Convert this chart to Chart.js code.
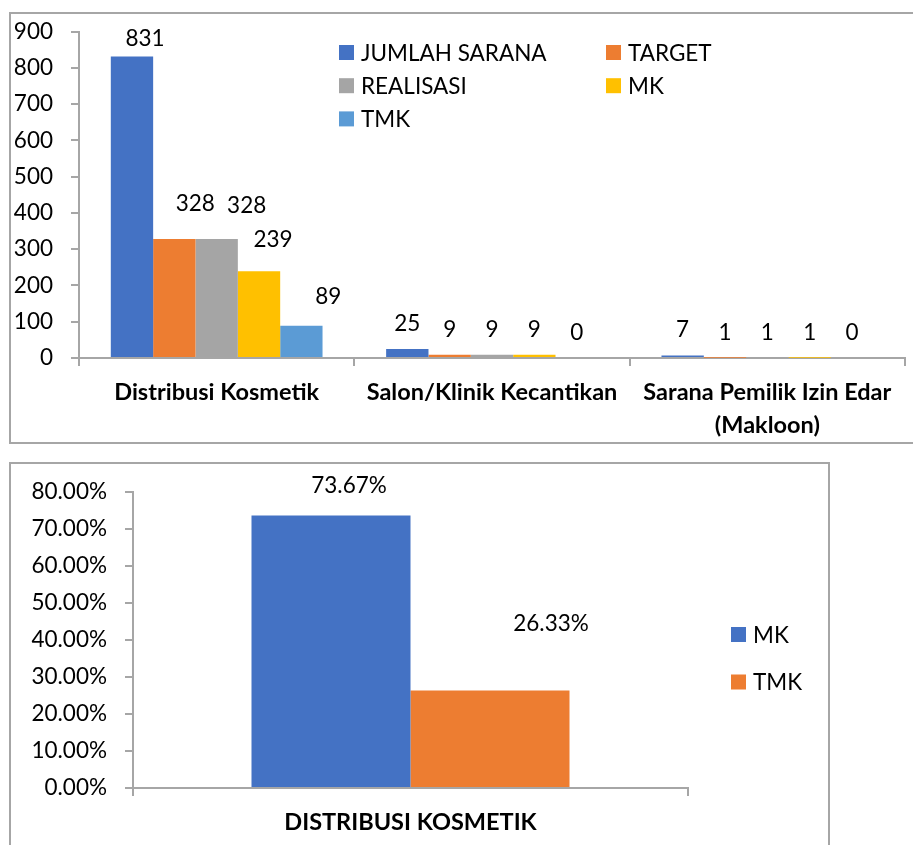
<!DOCTYPE html>
<html>
<head>
<meta charset="utf-8">
<script src="https://cdn.jsdelivr.net/npm/chart.js@4.4.1/dist/chart.umd.min.js"></script>
<style>
  body { margin: 0; background: #fff; width: 913px; height: 845px; overflow: hidden; position: relative; }
  .box { position: absolute; border: 2px solid #a6a6a6; box-sizing: border-box; }
  canvas { position: absolute; left: 0; }
</style>
</head>
<body>
<div class="box" style="left:9px;top:12px;width:930px;height:432px"></div>
<div class="box" style="left:9px;top:462px;width:821px;height:420px"></div>
<canvas id="top-chart" width="913" height="445" style="top:0"></canvas>
<canvas id="bottom-chart" width="913" height="400" style="top:445px"></canvas>
<script>
// top chart: jumlah sarana per kategori
const categories = [['Distribusi Kosmetik'], ['Salon/Klinik Kecantikan'], ['Sarana Pemilik Izin Edar', '(Makloon)']]
const seriesNames = ['JUMLAH SARANA', 'TARGET', 'REALISASI', 'MK', 'TMK']
const jumlahSarana = [831, 25, 7]
const target = [328, 9, 1]
const realisasi = [328, 9, 1]
const mk = [239, 9, 1]
const tmk = [89, 0, 0]
const countMax = 900
const countStep = 100

// bottom chart: persentase MK / TMK
const pctCategories = ['DISTRIBUSI KOSMETIK']
const pctNames = ['MK', 'TMK']
const pctMK = [73.67]
const pctTMK = [26.33]
const pctMax = 80
const pctStep = 10

const colors = ['#4472C4', '#ED7D31', '#A5A5A5', '#FFC000', '#5B9BD5']
const axisGray = '#a6a6a6'
const textColor = '#000'
const FONT = 'Lato'
const SIZE = 22.5
const BOLD_SIZE = 23.5

// draws the value above each bar (cap-centred), with optional per-bar shifts
const valueLabels = cfg => ({
  id: 'valueLabels',
  afterDatasetsDraw(chart) {
    const ctx = chart.ctx
    ctx.save()
    ctx.font = cfg.font
    ctx.fillStyle = textColor
    ctx.textAlign = 'center'
    ctx.textBaseline = 'alphabetic'
    chart.data.datasets.forEach((ds, i) => {
      chart.getDatasetMeta(i).data.forEach((bar, j) => {
        const s = cfg.shift[i + '-' + j] || [0, 0]
        const txt = ds.data[j].toFixed(cfg.decimals) + cfg.suffix
        ctx.fillText(txt, bar.x + s[0], bar.y - cfg.gap + s[1])
      })
    })
    ctx.restore()
  }
})

// excel-like legend laid out in fixed columns
const boxLegend = cfg => ({
  id: 'boxLegend',
  afterDraw(chart) {
    const ctx = chart.ctx
    ctx.save()
    ctx.font = cfg.font
    ctx.textAlign = 'left'
    ctx.textBaseline = 'alphabetic'
    chart.data.datasets.forEach((ds, i) => {
      const col = i % cfg.x.length
      const row = Math.floor(i / cfg.x.length)
      const x = cfg.x[col]
      const y = cfg.y + row * cfg.rowGap
      ctx.fillStyle = ds.backgroundColor
      ctx.fillRect(x, y - cfg.box / 2, cfg.box, cfg.box)
      ctx.fillStyle = textColor
      ctx.fillText(ds.label, x + cfg.textGap, y + 8)
    })
    ctx.restore()
  }
})

const axisStyle = {
  border: { display: true, color: axisGray, width: 2 },
  grid: { drawOnChartArea: false, drawTicks: true, tickLength: 8, color: axisGray, lineWidth: 2, tickColor: axisGray, tickWidth: 2 }
}

const drawCharts = () => {
  const countSeries = [jumlahSarana, target, realisasi, mk, tmk]

  new Chart(document.getElementById('top-chart'), {
    type: 'bar',
    data: {
      labels: categories,
      datasets: countSeries.map((d, i) => ({
        label: seriesNames[i],
        data: d,
        backgroundColor: colors[i],
        borderWidth: 0,
        categoryPercentage: 0.769,
        barPercentage: 1
      }))
    },
    options: {
      responsive: false,
      animation: false,
      layout: { padding: { top: 28, right: 8, left: 0, bottom: 0 } },
      plugins: { legend: { display: false }, tooltip: { enabled: false } },
      scales: {
        x: {
          ...axisStyle,
          ticks: { color: textColor, padding: 10, maxRotation: 0, minRotation: 0, autoSkip: false,
                   font: { family: FONT, size: BOLD_SIZE, weight: 'bold', lineHeight: 1.4 } },
          afterFit: s => { s.height = 87 }
        },
        y: {
          ...axisStyle,
          min: 0,
          max: countMax,
          ticks: { stepSize: countStep, color: textColor, padding: 18, font: { family: FONT, size: SIZE } },
          afterFit: s => { s.width = 79 }
        }
      }
    },
    plugins: [
      valueLabels({
        font: SIZE + 'px ' + FONT, gap: 18, decimals: 0, suffix: '',
        shift: { '0-0': [13, 7], '1-0': [21, -10], '2-0': [30, -8], '3-0': [14, -6], '4-0': [27, -4] }
      }),
      boxLegend({ font: SIZE + 'px ' + FONT, x: [339, 606], y: 52.5, rowGap: 33.2, box: 15, textGap: 22 })
    ]
  })

  const pctSeries = [pctMK, pctTMK]

  new Chart(document.getElementById('bottom-chart'), {
    type: 'bar',
    data: {
      labels: pctCategories,
      datasets: pctSeries.map((d, i) => ({
        label: pctNames[i],
        data: d,
        backgroundColor: colors[i],
        borderWidth: 0,
        categoryPercentage: 0.573,
        barPercentage: 1
      }))
    },
    options: {
      responsive: false,
      animation: false,
      layout: { padding: { top: 47, right: 225, left: 0, bottom: 0 } },
      plugins: { legend: { display: false }, tooltip: { enabled: false } },
      scales: {
        x: {
          ...axisStyle,
          ticks: { color: textColor, padding: 10, maxRotation: 0, minRotation: 0,
                   font: { family: FONT, size: BOLD_SIZE, weight: 'bold', lineHeight: 1.4 } },
          afterFit: s => { s.height = 57 }
        },
        y: {
          ...axisStyle,
          min: 0,
          max: pctMax,
          ticks: { stepSize: pctStep, color: textColor, padding: 18, font: { family: FONT, size: SIZE },
                   callback: v => v.toFixed(2) + '%' },
          afterFit: s => { s.width = 133 }
        }
      }
    },
    plugins: [
      valueLabels({ font: SIZE + 'px ' + FONT, gap: 18, decimals: 2, suffix: '%', shift: { '0-0': [18, -4], '1-0': [61, -42] } }),
      boxLegend({ font: SIZE + 'px ' + FONT, x: [731], y: 189.5, rowGap: 47.5, box: 15, textGap: 22 })
    ]
  })
}

Promise.all([document.fonts.load(SIZE + 'px ' + FONT), document.fonts.load('bold ' + BOLD_SIZE + 'px ' + FONT)])
  .then(drawCharts, drawCharts)
</script>
</body>
</html>
